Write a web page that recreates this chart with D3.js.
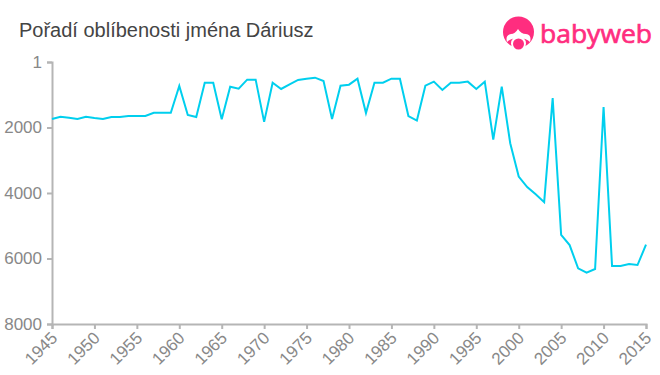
<!DOCTYPE html>
<html><head><meta charset="utf-8">
<script src="https://cdn.jsdelivr.net/npm/d3@7/dist/d3.min.js"></script>
<style>html,body{margin:0;padding:0;background:#fff;overflow:hidden}svg{display:block}text{font-family:"Liberation Sans",Arial,sans-serif}</style>
</head><body><svg id="c" width="660" height="375"></svg>
<script>
const chartTitle = "Pořadí oblíbenosti jména Dáriusz";
const brandName = "babyweb";
const years = [1945,1946,1947,1948,1949,1950,1951,1952,1953,1954,1955,1956,1957,1958,1959,1960,1961,1962,1963,1964,1965,1966,1967,1968,1969,1970,1971,1972,1973,1974,1975,1976,1977,1978,1979,1980,1981,1982,1983,1984,1985,1986,1987,1988,1989,1990,1991,1992,1993,1994,1995,1996,1997,1998,1999,2000,2001,2002,2003,2004,2005,2006,2007,2008,2009,2010,2011,2012,2013,2014,2015];
const ranks = [1740,1670,1700,1740,1670,1710,1740,1680,1680,1650,1650,1650,1550,1550,1550,733,1620,1680,632,632,1750,754,815,540,540,1830,632,825,682,550,510,480,580,1740,723,693,510,1560,632,632,510,510,1650,1790,723,600,855,632,632,600,825,600,2370,754,2480,3500,3820,4040,4280,1100,5280,5590,6300,6430,6320,1375,6230,6230,6170,6200,5580];
const yTicks = [1,2000,4000,6000,8000];
const xTicks = [1945,1950,1955,1960,1965,1970,1975,1980,1985,1990,1995,2000,2005,2010,2015];

const svg = d3.select("#c");
const x = d3.scaleLinear().domain([1945,2015]).range([52,646]);
const y = d3.scaleLinear().domain([1,8000]).range([62,324]);

svg.append("text").attr("x",19).attr("y",37).attr("font-size",20).attr("fill","#444").text(chartTitle);

const gx = svg.append("g").attr("transform","translate(0,324)")
  .call(d3.axisBottom(x).tickValues(xTicks).tickFormat(d3.format("d")).tickSize(5).tickPadding(4));
gx.selectAll("text").attr("font-size",17).attr("fill","#888").attr("text-anchor","end")
  .attr("dx",0).attr("dy",0).attr("y",0).attr("x",0)
  .attr("transform","translate(6,15) rotate(-45)");
const gy = svg.append("g").attr("transform","translate(52,0)")
  .call(d3.axisLeft(y).tickValues(yTicks).tickFormat(d3.format("d")).tickSize(5).tickPadding(5));
gy.selectAll("text").attr("font-size",17).attr("fill","#888");
svg.selectAll(".domain").attr("stroke","#b5b5b5").attr("stroke-width",2);
svg.selectAll(".tick line").attr("stroke","#b5b5b5").attr("stroke-width",2);

svg.append("path").datum(ranks)
  .attr("fill","none").attr("stroke","#00cfee").attr("stroke-width",2).attr("stroke-linejoin","miter")
  .attr("d",d3.line().x((d,i)=>x(years[i])).y(d=>y(d)));

// logo
const logo = svg.append("g").attr("fill","#ff2d7f");
logo.append("circle").attr("cx",518.5).attr("cy",32).attr("r",15.5);
logo.append("path").attr("fill","#fff").attr("d","M507 42 Q505 35 511 34 Q515 34 518 29 Q521 34 526 34 Q532 35 530 42 Q526 38 518.5 38 Q511 38 507 42Z");
logo.append("circle").attr("cx",518.5).attr("cy",43.5).attr("r",7.5).attr("fill","#fff");
logo.append("circle").attr("cx",518.5).attr("cy",44).attr("r",5.5);
logo.append("text").attr("x",540).attr("y",43).attr("font-size",26).attr("textLength",112).attr("lengthAdjust","spacingAndGlyphs")
  .style("font-family","'Open Sans',sans-serif").attr("fill","#ff2d7f").attr("stroke","#ff2d7f").attr("stroke-width",0.7).text(brandName);
</script></body></html>
